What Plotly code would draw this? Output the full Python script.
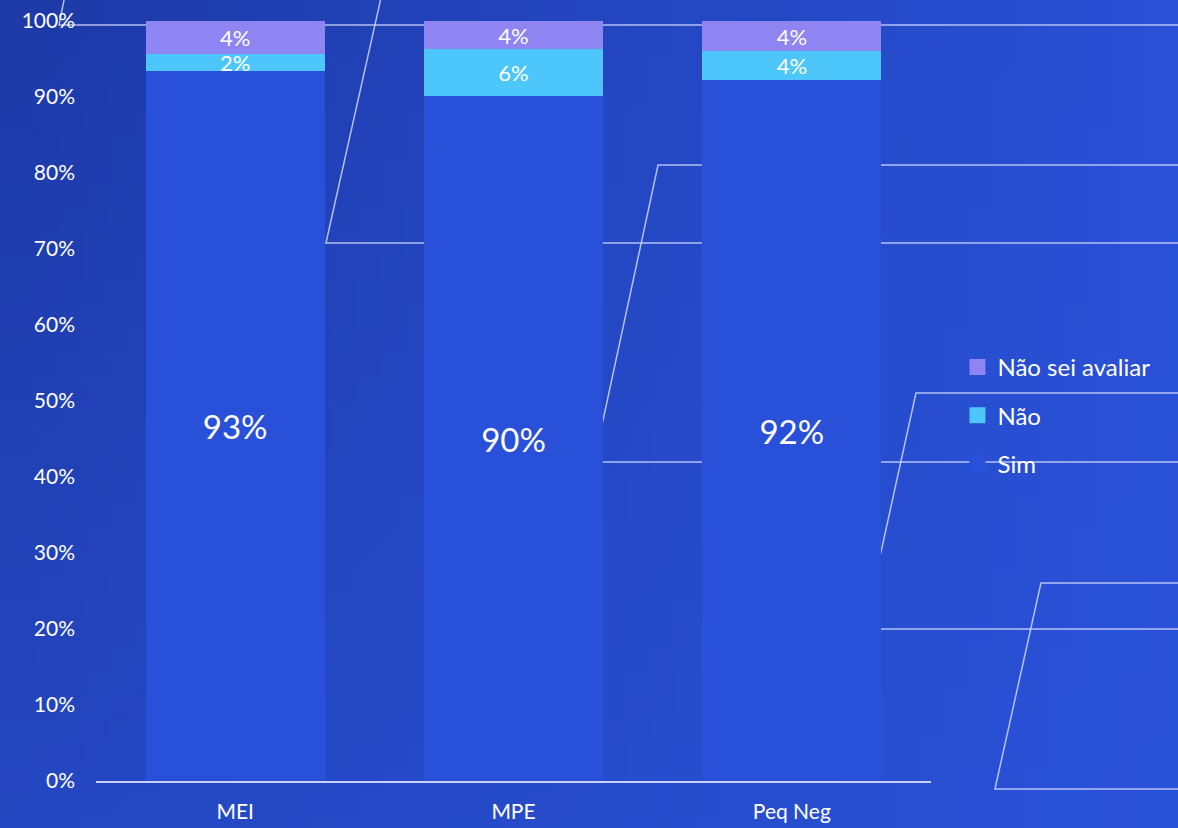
import base64
import struct
import zlib

import plotly.graph_objects as go

# data
categories = ["MEI", "MPE", "Peq Neg"]
sim = [93.4, 90.1, 92.2]
nao = [2.2, 6.2, 3.8]
nao_sei = [4.4, 3.7, 4.0]

W, H = 1178, 828
L, R, T, B = 96, 247, 21, 47
PW, PH = W - L - R, H - T - B


def png_gradient(w, h, tl, tr, bl, br):
    # small bilinear gradient png for the slide background
    rows = []
    for j in range(h):
        v = j / (h - 1)
        row = bytearray([0])
        for i in range(w):
            u = i / (w - 1)
            for c in range(3):
                top = tl[c] * (1 - u) + tr[c] * u
                bot = bl[c] * (1 - u) + br[c] * u
                row.append(int(round(top * (1 - v) + bot * v)))
        rows.append(bytes(row))
    raw = zlib.compress(b"".join(rows))

    def chunk(tag, data):
        return (struct.pack(">I", len(data)) + tag + data
                + struct.pack(">I", zlib.crc32(tag + data) & 0xffffffff))

    ihdr = struct.pack(">IIBBBBB", w, h, 8, 2, 0, 0, 0)
    data = b"\x89PNG\r\n\x1a\n" + chunk(b"IHDR", ihdr) + chunk(b"IDAT", raw) + chunk(b"IEND", b"")
    return "data:image/png;base64," + base64.b64encode(data).decode()


def px(x, y):
    # pixel position on the slide -> paper coords
    return (x - L) / PW, (H - B - y) / PH


def path(points):
    parts = []
    for k, (x, y) in enumerate(points):
        xp, yp = px(x, y)
        parts.append(("M" if k == 0 else "L") + f"{xp:.4f},{yp:.4f}")
    return " ".join(parts)


# decorative slide outlines (pixel points)
deco = [
    [(65, -5), (59, 25), (1190, 25)],
    [(385, -20), (326, 243), (1190, 243)],
    [(1190, 165), (658, 165), (594, 462), (1190, 462)],
    [(1190, 393), (916, 393), (864, 629), (1190, 629)],
    [(1190, 583), (1041, 583), (995, 789), (1190, 789)],
]

font = "Lato"
c_sim = "#2850d8"
c_nao = "#4dc6fc"
c_nsa = "#8e84f2"

fig = go.Figure()
fig.add_bar(x=categories, y=sim, name="Sim", marker_color=c_sim,
            texttemplate="%{y:.0f}%", textfont=dict(size=33, color="white"))
fig.add_bar(x=categories, y=nao, name="Não", marker_color=c_nao,
            texttemplate="%{y:.0f}%", textfont=dict(size=22, color="white"))
fig.add_bar(x=categories, y=nao_sei, name="Não sei avaliar", marker_color=c_nsa,
            texttemplate="%{y:.0f}%", textfont=dict(size=22, color="white"))
fig.update_traces(width=0.643, marker_line_width=0, textposition="inside",
                  insidetextanchor="middle", textangle=0, constraintext="none",
                  showlegend=False)

# legend entries with bigger square swatches
for name, col, rank in [("Não sei avaliar", c_nsa, 1), ("Não", c_nao, 2), ("Sim", c_sim, 3)]:
    fig.add_scatter(x=[None], y=[None], mode="markers", name=name, legendrank=rank,
                    legendgroup=name,
                    marker=dict(symbol="square", size=16, color=col, line_width=0))

shapes = [dict(type="path", xref="paper", yref="paper", path=path(p), layer="below",
               line=dict(color="rgba(215,222,255,0.8)", width=1.5)) for p in deco]

bg = png_gradient(48, 34, (29, 58, 168), (41, 80, 214), (36, 70, 192), (42, 82, 216))

fig.update_layout(
    barmode="stack",
    width=W, height=H, autosize=False,
    margin=dict(l=L, r=R, t=T, b=B),
    paper_bgcolor="#2347c4",
    plot_bgcolor="rgba(0,0,0,0)",
    font=dict(family=font, color="white"),
    bargap=0.357,
    shapes=shapes,
    images=[dict(source=bg, xref="paper", yref="paper", x=-L / PW, y=1 + T / PH,
                 sizex=W / PW, sizey=H / PH, sizing="stretch", layer="below",
                 xanchor="left", yanchor="top")],
    legend=dict(x=(975 - L) / PW - 0.021, y=(H - B - 345) / PH, xanchor="left", yanchor="top",
                traceorder="grouped", tracegroupgap=14, itemwidth=30,
                font=dict(size=24, color="white"), bgcolor="rgba(0,0,0,0)"),
)
fig.update_yaxes(range=[0, 100], dtick=10, ticksuffix="%", showgrid=False, zeroline=False,
                 tickfont=dict(size=21, color="white"), ticklabelstandoff=20, automargin=False)
fig.update_xaxes(showline=True, linecolor="#c8d0f6", linewidth=2, showgrid=False,
                 tickfont=dict(size=21, color="white"), ticklabelstandoff=11, automargin=False)

fig.write_html("out.html", config={"displayModeBar": False},
               post_script="document.body.style.margin='0';")
